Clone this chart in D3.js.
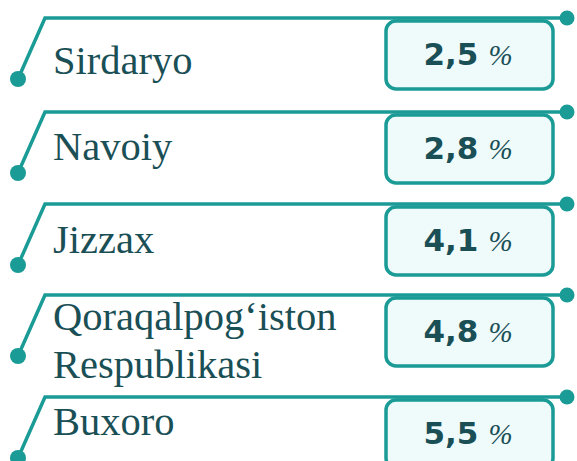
<!DOCTYPE html>
<html>
<head>
<meta charset="utf-8">
<script src="https://cdn.jsdelivr.net/npm/d3@7"></script>
<style>
  body { margin: 0; background: #fff; }
  svg { display: block; }
</style>
</head>
<body>
<div id="chart"></div>
<script>
// data
var regions = ["Sirdaryo", "Navoiy", "Jizzax", "Qoraqalpog\u2018iston Respublikasi", "Buxoro"];
var labelLines = [["Sirdaryo"], ["Navoiy"], ["Jizzax"], ["Qoraqalpog\u2018iston", "Respublikasi"], ["Buxoro"]];
var shares = [2.5, 2.8, 4.1, 4.8, 5.5];

// layout (measured)
var rowTop = [18, 112, 204, 295, 397];
var labelDy = [56, 48, 49, 35, 38];

var width = 577,
    height = 461;

var teal = "#1a9b96",
    dark = "#1a4f56";

var fmt = d3.formatLocale({ decimal: ",", thousands: " ", grouping: [3], currency: ["", ""] }).format(".1f");

var y = d3.scaleOrdinal()
    .domain(regions)
    .range(rowTop);

var svg = d3.select("#chart").append("svg")
    .attr("width", width)
    .attr("height", height);

var rows = svg.selectAll(".row")
    .data(regions)
    .enter().append("g")
    .attr("class", "row")
    .attr("transform", function(d) { return "translate(0," + y(d) + ")"; });

// connector: dot -> diagonal -> horizontal -> dot
rows.append("path")
    .attr("d", "M18,61L45,0H567")
    .attr("fill", "none")
    .attr("stroke", teal)
    .attr("stroke-width", 3.5);

rows.append("circle")
    .attr("cx", 18)
    .attr("cy", 61)
    .attr("r", 8)
    .attr("fill", teal);

rows.append("circle")
    .attr("cx", 567)
    .attr("cy", 0)
    .attr("r", 7.5)
    .attr("fill", teal);

// labels
rows.append("text")
    .attr("x", 53)
    .attr("y", function(d, i) { return labelDy[i]; })
    .attr("fill", dark)
    .style("font-family", "'Liberation Serif', 'Times New Roman', serif")
    .style("font-size", "40.5px")
    .selectAll("tspan")
    .data(function(d, i) { return labelLines[i]; })
    .enter().append("tspan")
    .attr("x", 53)
    .attr("dy", function(d, i) { return i ? 48 : 0; })
    .text(function(d) { return d; });

// value boxes
rows.append("rect")
    .attr("x", 386)
    .attr("y", 3)
    .attr("width", 167)
    .attr("height", 68)
    .attr("rx", 10)
    .attr("fill", "#effbfb")
    .attr("stroke", teal)
    .attr("stroke-width", 3.5);

var val = rows.append("text")
    .attr("x", 468)
    .attr("y", 47)
    .attr("text-anchor", "middle")
    .attr("fill", dark);

val.append("tspan")
    .style("font-family", "'DejaVu Sans', Verdana, sans-serif")
    .style("font-weight", "bold")
    .style("font-size", "31px")
    .text(function(d, i) { return fmt(shares[i]); });

val.append("tspan")
    .attr("dx", 10)
    .style("font-family", "'Liberation Serif', serif")
    .style("font-style", "italic")
    .style("font-size", "29px")
    .text("%");
</script>
</body>
</html>
